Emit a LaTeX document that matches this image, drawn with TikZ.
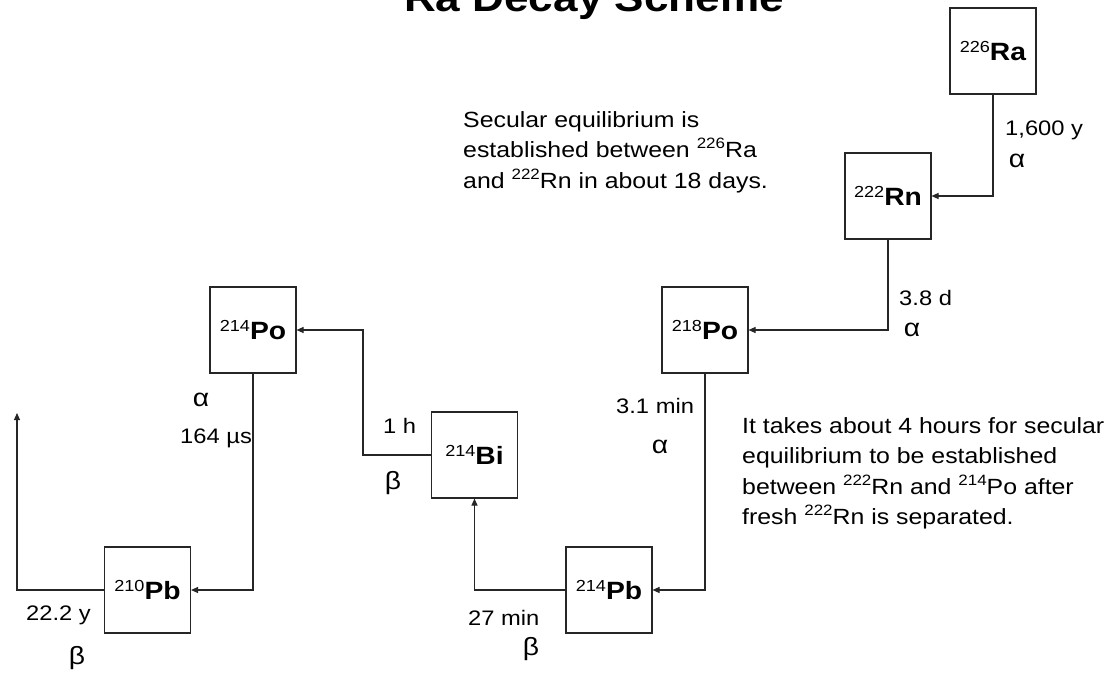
\documentclass[tikz,border=0pt]{standalone}
\usepackage{fontspec}
\setmainfont{Liberation Sans}[FakeStretch=1.13]
\usetikzlibrary{arrows.meta}
\newcommand\spn[1]{\raisebox{0.4em}{\fontsize{15}{15}\selectfont #1}}
\newcommand\isot[2]{\raisebox{8.5pt}{\fontsize{16}{16}\selectfont #1}\textbf{#2}}
\begin{document}
\begin{tikzpicture}[x=1pt,y=-1pt,
  nuc/.style={draw=black!85,line width=1.1pt,minimum size=86pt,inner sep=0pt,font=\fontsize{25}{25}\selectfont},
  arr/.style={draw=black!85,line width=1.1pt,-{Triangle[length=7pt,width=6pt]}},
  lbl/.style={inner sep=0pt,font=\fontsize{21}{21}\selectfont},
  grk/.style={inner sep=0pt,font=\fontsize{25}{25}\selectfont},
  note/.style={inner sep=0pt,align=left,font=\fontsize{22}{30.5}\selectfont}]
\useasboundingbox[fill=white] (0,0) rectangle (1119,675);
% title
\node[anchor=base,inner sep=0pt,font=\fontsize{39}{39}\selectfont\bfseries] (title) at (594,11) {Ra Decay Scheme};
% nuclides
\node[nuc] (ra)    at (993,51)    {\isot{226}{Ra}};
\node[nuc] (rn)    at (888,196)   {\isot{222}{Rn}};
\node[nuc] (po218) at (705,330)   {\isot{218}{Po}};
\node[nuc] (pb214) at (609,590)   {\isot{214}{Pb}};
\node[nuc] (bi214) at (474.5,455) {\isot{214}{Bi}};
\node[nuc] (po214) at (253,330)   {\isot{214}{Po}};
\node[nuc] (pb210) at (147.5,590) {\isot{210}{Pb}};
\coordinate (k1) at (363,455);
\coordinate (out) at (17,413);
% connectors
\draw[arr] (ra.south) |- (rn.east);
\draw[arr] (rn.south) |- (po218.east);
\draw[arr] (po218.south) |- (pb214.east);
\draw[arr] (pb214.west) -| (bi214.south);
\draw[arr] (bi214.west) -- (k1) |- (po214.east);
\draw[arr] (po214.south) |- (pb210.east);
\draw[arr] (pb210.west) -| (out);
% labels
\node[lbl,anchor=base west] (t1) at (1005,135) {1,600 y};
\node[grk,anchor=base] (a1) at (1017,167) {α};
\node[lbl,anchor=base west] (t2) at (899,305) {3.8 d};
\node[grk,anchor=base] (a2) at (912,336) {α};
\node[lbl,anchor=base west] (t3) at (616,413) {3.1 min};
\node[grk,anchor=base] (a3) at (660,453) {α};
\node[lbl,anchor=base west] (t4) at (468,625) {27 min};
\node[grk,anchor=base] (b4) at (531,655) {β};
\node[lbl,anchor=base west] (t5) at (26,620) {22.2 y};
\node[grk,anchor=base] (b5) at (77,664) {β};
\node[grk,anchor=base] (a6) at (201,406) {α};
\node[lbl,anchor=base west] (t6) at (180,443) {164 µs};
\node[lbl,anchor=base west] (t7) at (383,433) {1 h};
\node[grk,anchor=base] (b7) at (393,489) {β};
% notes
\node[note,anchor=north west] (n1) at (463,111) {Secular equilibrium is\\established between \spn{226}Ra\\and \spn{222}Rn in about 18 days.};
\node[note,anchor=north west] (n2) at (742,417) {It takes about 4 hours for secular\\equilibrium to be established\\between \spn{222}Rn and \spn{214}Po after\\fresh \spn{222}Rn is separated.};
\end{tikzpicture}
\end{document}
